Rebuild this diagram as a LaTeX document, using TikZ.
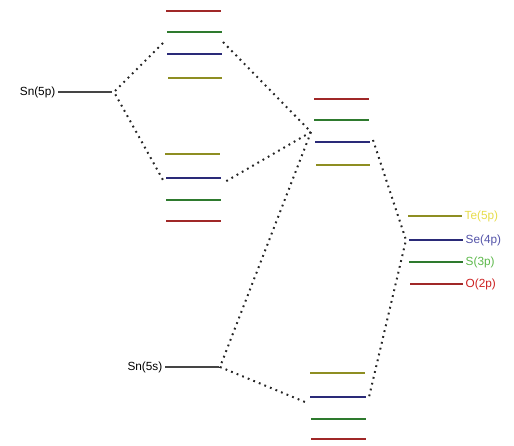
\documentclass[tikz,border=0pt]{standalone}
\usepackage{fontspec}
\setmainfont{Liberation Sans}
\definecolor{lvred}{HTML}{A02828}
\definecolor{lvgreen}{HTML}{2E7A2E}
\definecolor{lvblue}{HTML}{2A2A78}
\definecolor{lvolive}{HTML}{8E8E22}
\definecolor{lvgray}{HTML}{454545}
\definecolor{txyellow}{HTML}{E6DC4A}
\definecolor{txblue}{HTML}{5252A8}
\definecolor{txgreen}{HTML}{5CB84A}
\definecolor{txred}{HTML}{CC2020}
\tikzset{
  level/.style={line width=2pt},
  conn/.style={line width=2pt, dash pattern=on 1.8pt off 4.2pt, color=black!85},
  lbl/.style={font=\fontsize{11.8}{14}\selectfont, inner sep=2.5pt}
}
\newcommand{\lvl}[5]{%
  \coordinate (#1-l) at (#2,#4);
  \coordinate (#1-r) at (#3,#4);
  \draw[level,#5] (#1-l) -- (#1-r);
}
\begin{document}
\begin{tikzpicture}[x=1pt,y=-1pt]
\useasboundingbox (0,0) rectangle (514,446);
% left column
\lvl{La}{166}{221}{11}{lvred}
\lvl{Lb}{167}{222}{32}{lvgreen}
\lvl{Lc}{167}{222}{54}{lvblue}
\lvl{Ld}{168}{222}{78}{lvolive}
\lvl{Le}{165}{220}{154}{lvolive}
\lvl{Lf}{166}{221}{178}{lvblue}
\lvl{Lg}{166}{221}{200}{lvgreen}
\lvl{Lh}{166}{221}{221}{lvred}
% middle column
\lvl{Ma}{314}{369}{99}{lvred}
\lvl{Mb}{314}{369}{120}{lvgreen}
\lvl{Mc}{315}{370}{142}{lvblue}
\lvl{Md}{316}{370}{165}{lvolive}
% right column
\lvl{Ra}{408}{462}{216}{lvolive}
\lvl{Rb}{409}{463}{240}{lvblue}
\lvl{Rc}{409}{463}{262}{lvgreen}
\lvl{Rd}{410}{463}{284}{lvred}
% bottom column
\lvl{Ba}{310}{365}{373}{lvolive}
\lvl{Bb}{310}{366}{397}{lvblue}
\lvl{Bc}{311}{366}{419}{lvgreen}
\lvl{Bd}{311}{366}{439}{lvred}
% Sn levels
\lvl{Sp}{58}{112}{92}{lvgray}
\lvl{Ss}{165}{219}{367}{lvgray}
\node[lbl, anchor=east] (snp) at (Sp-l) {Sn(5p)};
\node[lbl, anchor=east] (sns) at (Ss-l) {Sn(5s)};
\node[lbl, anchor=west, text=txyellow] (te) at (Ra-r) {Te(5p)};
\node[lbl, anchor=west, text=txblue] (se) at (Rb-r) {Se(4p)};
\node[lbl, anchor=west, text=txgreen] (s) at (Rc-r) {S(3p)};
\node[lbl, anchor=west, text=txred] (o) at (Rd-r) {O(2p)};
% connector ends
\coordinate (c1) at (163,43);
\coordinate (c2) at (223,42);
\coordinate (c3) at (163,180);
\coordinate (c4) at (223,183);
\coordinate (m) at (311,132);
\coordinate (m2) at (373,140);
\coordinate (r) at (406,240);
\coordinate (b1) at (305,402);
\coordinate (b2) at (369,397);
\coordinate (p5) at (114,92);
\coordinate (s5) at (220,367);
\draw[conn] (c1) -- (p5) -- (c3);
\draw[conn] (c2) -- (m) -- (c4);
\draw[conn] (m) -- (s5) -- (b1);
\draw[conn] (m2) -- (r) -- (b2);
\end{tikzpicture}
\end{document}
